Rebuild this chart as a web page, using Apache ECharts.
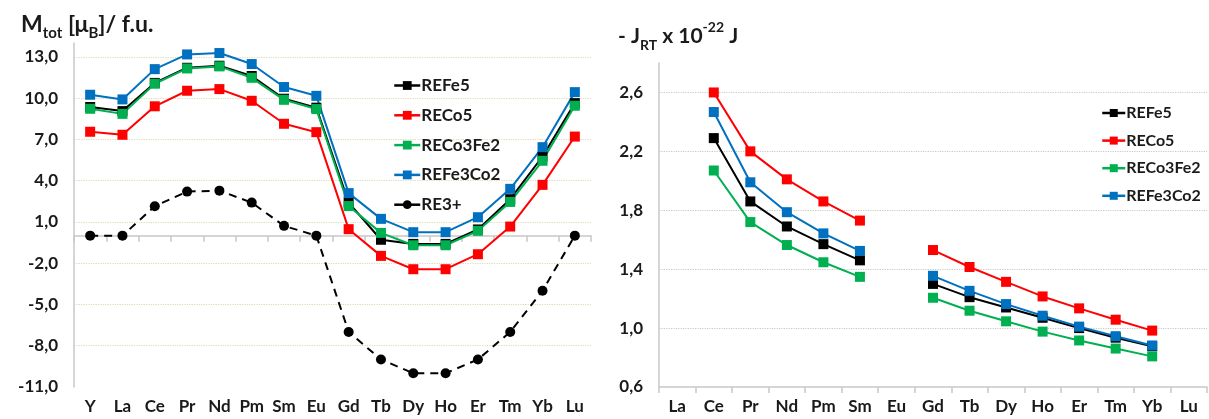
<!DOCTYPE html>
<html><head><meta charset="utf-8">
<script src="https://cdn.jsdelivr.net/npm/echarts@6/dist/echarts.min.js"></script>
<style>html,body{margin:0;padding:0;background:#fff}#c{width:1209px;height:419px}</style>
</head><body><div id="c"></div>
<script>
// ---- data ----
const catsLeft = ['Y','La','Ce','Pr','Nd','Pm','Sm','Eu','Gd','Tb','Dy','Ho','Er','Tm','Yb','Lu'];
const catsRight = ['La','Ce','Pr','Nd','Pm','Sm','Eu','Gd','Tb','Dy','Ho','Er','Tm','Yb','Lu'];
const seriesNames = ['REFe5','RECo5','RECo3Fe2','REFe3Co2','RE3+'];
// Total moment M_tot [μB]/f.u.
const mFe5    = [9.35, 9.05, 11.1, 12.2, 12.35, 11.6, 9.95, 9.3, 2.4, -0.3, -0.6, -0.6, 0.45, 2.65, 5.75, 9.63];
const mCo5    = [7.55, 7.33, 9.4, 10.53, 10.65, 9.8, 8.13, 7.52, 0.47, -1.47, -2.44, -2.44, -1.35, 0.66, 3.69, 7.2];
const mCo3Fe2 = [9.22, 8.85, 11.04, 12.15, 12.3, 11.47, 9.87, 9.2, 2.15, 0.2, -0.7, -0.7, 0.35, 2.45, 5.44, 9.44];
const mFe3Co2 = [10.24, 9.9, 12.1, 13.17, 13.27, 12.47, 10.8, 10.16, 3.09, 1.22, 0.25, 0.25, 1.34, 3.4, 6.43, 10.43];
const mRE3    = [0, 0, 2.14, 3.2, 3.27, 2.4, 0.71, 0, -7, -9, -10, -10, -9, -7, -4, 0];
// -J_RT x 1e-22 J
const jFe5    = [null, 2.29, 1.86, 1.69, 1.57, 1.46, null, 1.30, 1.21, 1.14, 1.07, 1.00, 0.935, 0.877, null];
const jCo5    = [null, 2.6, 2.2, 2.01, 1.86, 1.73, null, 1.53, 1.415, 1.314, 1.215, 1.134, 1.057, 0.983, null];
const jCo3Fe2 = [null, 2.07, 1.72, 1.564, 1.447, 1.348, null, 1.206, 1.118, 1.046, 0.976, 0.916, 0.861, 0.808, null];
const jFe3Co2 = [null, 2.467, 1.99, 1.787, 1.643, 1.524, null, 1.355, 1.253, 1.163, 1.084, 1.01, 0.945, 0.882, null];

const colors = {REFe5:'#000000', RECo5:'#FF0000', RECo3Fe2:'#00B050', REFe3Co2:'#0070C0', 'RE3+':'#000000'};
const FONT = 'Lato';
const TXT = '#1a1a1a';
const fmt = v => v.toFixed(1).replace('.', ',');

function lineSeries(name, data, xi, yi, size){
  return {name, type:'line', xAxisIndex:xi, yAxisIndex:yi, data,
    symbol:'rect', symbolSize:size, showSymbol:true,
    itemStyle:{color:colors[name], borderWidth:0},
    lineStyle:{color:colors[name], width:2}, animation:false, z:3};
}
const leftGrid = 'rgba(220,215,170,0.9)';
const rightGrid = '#C8C8C8';
const xAxisCommon = {type:'category', boundaryGap:true,
  axisLine:{lineStyle:{color:'#C8C8C8', width:1.5}},
  axisTick:{show:true, length:6, lineStyle:{color:'#C8C8C8', width:1.5}},
  axisLabel:{color:TXT, fontFamily:FONT, fontWeight:'bold', fontSize:17, margin:11}};
const tMain = sz => ({fontFamily:FONT, fontWeight:'bold', fontSize:sz, color:TXT, lineHeight:32});
const legendData = seriesNames.map(n => n === 'RE3+' ? {name:n, lineStyle:{type:'solid', width:2.5, color:'#000'}} : n);

const option = {
  backgroundColor:'#fff',
  animation:false,
  title:[
    {left:16, top:4, text:'{a|M}{s|tot}{a| [μ}{s|B}{a|]/ f.u.}',
     textStyle:{fontWeight:'bold', fontFamily:FONT, rich:{
       a:tMain(23),
       s:{fontFamily:FONT, fontWeight:'bold', fontSize:15, color:TXT, lineHeight:32, verticalAlign:'bottom', padding:[10,0,0,0]}}}},
    {left:613, top:15, text:'{a|- J}{s|RT}{a| x 10}{p|-22}{a| J}',
     textStyle:{fontWeight:'bold', fontFamily:FONT, rich:{
       a:tMain(21),
       s:{fontFamily:FONT, fontWeight:'bold', fontSize:14, color:TXT, lineHeight:32, verticalAlign:'bottom', padding:[10,0,0,0]},
       p:{fontFamily:FONT, fontWeight:'bold', fontSize:14, color:TXT, lineHeight:32, verticalAlign:'top', padding:[0,0,12,0]}}}}
  ],
  legend:[
    {left:388, top:72, orient:'vertical', itemGap:12.8, itemWidth:26, itemHeight:11,
     lineStyle:{width:2.5},
     data:legendData, textStyle:{fontFamily:FONT, fontWeight:'bold', fontSize:17, color:TXT, padding:[0,0,0,-4]}},
    {left:1096, top:100, orient:'vertical', itemGap:11.6, itemWidth:23, itemHeight:10,
     lineStyle:{width:2.5},
     data:seriesNames.slice(0,4), textStyle:{fontFamily:FONT, fontWeight:'bold', fontSize:16, color:TXT, padding:[0,0,0,-4]}}
  ],
  grid:[
    {left:74, right:618, top:43, bottom:32},
    {left:659, right:2, top:63, bottom:32}
  ],
  xAxis:[
    Object.assign({}, xAxisCommon, {gridIndex:0, data:catsLeft}),
    Object.assign({}, xAxisCommon, {gridIndex:1, data:catsRight})
  ],
  yAxis:[
    {type:'value', gridIndex:0, min:-11, max:14, interval:3,
     axisLine:{show:true, lineStyle:{color:'#C8C8C8', width:1.5}}, axisTick:{show:false},
     axisLabel:{formatter:fmt, showMaxLabel:false, color:TXT, fontFamily:FONT, fontWeight:'bold', fontSize:17, margin:16},
     splitLine:{show:true, lineStyle:{type:'dotted', width:1.2,
       color:['transparent',leftGrid,leftGrid,leftGrid,leftGrid,leftGrid,leftGrid,leftGrid,leftGrid,'transparent']}}},
    {type:'value', gridIndex:1, min:0.6, max:2.8, interval:0.4,
     axisLine:{show:true, lineStyle:{color:'#C8C8C8', width:1.5}}, axisTick:{show:false},
     axisLabel:{formatter:fmt, showMaxLabel:false, color:TXT, fontFamily:FONT, fontWeight:'bold', fontSize:17, margin:16},
     splitLine:{show:true, lineStyle:{type:'dotted', width:1.2,
       color:['transparent',rightGrid,rightGrid,rightGrid,rightGrid,rightGrid,'transparent']}}}
  ],
  series:[
    lineSeries('REFe5', mFe5, 0, 0, 10),
    lineSeries('RECo5', mCo5, 0, 0, 10),
    lineSeries('RECo3Fe2', mCo3Fe2, 0, 0, 10),
    lineSeries('REFe3Co2', mFe3Co2, 0, 0, 10),
    {name:'RE3+', type:'line', xAxisIndex:0, yAxisIndex:0, data:mRE3, symbol:'circle', symbolSize:10,
     itemStyle:{color:'#000', borderWidth:0}, lineStyle:{color:'#000', width:2, type:[8,6]}, animation:false, z:2},
    lineSeries('REFe5', jFe5, 1, 1, 10),
    lineSeries('RECo5', jCo5, 1, 1, 10),
    lineSeries('RECo3Fe2', jCo3Fe2, 1, 1, 10),
    lineSeries('REFe3Co2', jFe3Co2, 1, 1, 10)
  ]
};
const chart = echarts.init(document.getElementById('c'), null, {renderer:'canvas'});
chart.setOption(option);
</script></body></html>
